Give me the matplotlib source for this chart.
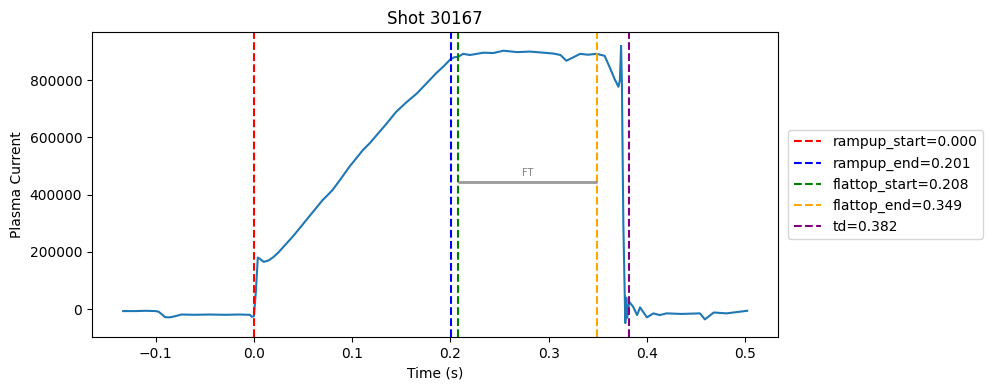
import matplotlib.pyplot as plt

# plasma current trace (time in s, current in A)
time = [-0.133, -0.120, -0.110, -0.100, -0.097, -0.093, -0.0906, -0.087, -0.084,
        -0.079, -0.0736, -0.060, -0.045, -0.030, -0.015, -0.004, -0.002, 0.000,
        0.002, 0.004, 0.006, 0.010, 0.015, 0.020, 0.025, 0.030, 0.035, 0.040,
        0.045, 0.050, 0.055, 0.060, 0.065, 0.070, 0.075, 0.080, 0.0876, 0.0978,
        0.104, 0.111, 0.118, 0.125, 0.135, 0.145, 0.155, 0.166, 0.176, 0.186,
        0.193, 0.200, 0.204, 0.208, 0.213, 0.220, 0.2335, 0.244, 0.254, 0.268,
        0.281, 0.295, 0.305, 0.312, 0.318, 0.324, 0.332, 0.340, 0.349, 0.357,
        0.3625, 0.367, 0.371, 0.3725, 0.3737, 0.3745, 0.376, 0.378, 0.379,
        0.380, 0.382, 0.386, 0.390, 0.393, 0.400, 0.4066, 0.413, 0.420, 0.435,
        0.454, 0.459, 0.468, 0.481, 0.488, 0.502]
current = [-7000, -7000, -6000, -7000, -9000, -20000, -28000, -29000, -28000,
           -24000, -19000, -20000, -19000, -20000, -19000, -20000, -27000, -25000,
           60000, 180000, 176000, 165000, 170000, 182000, 198000, 217000, 236000, 255000,
           276000, 297000, 318000, 339000, 360000, 381000, 398000, 416000, 451000, 500000,
           526000, 556000, 580000, 608000, 648000, 690000, 722000, 754000, 790000, 826000,
           848000, 873000, 880000, 882000, 892000, 888000, 896000, 895000, 903000, 898000,
           900000, 896000, 893000, 888000, 868000, 878000, 892000, 889000, 892000, 885000,
           842000, 805000, 777000, 800000, 920000, 800000, 300000, -49000, 40000,
           -30000, 25000, 8000, -21000, 6000, -29000, -15000, -21000, -15000, -17000,
           -15000, -36000, -12000, -15000, -12000, -6000]

# event markers
event_names = ["rampup_start", "rampup_end", "flattop_start", "flattop_end", "td"]
event_times = [0.000, 0.201, 0.208, 0.349, 0.382]
event_colors = ["red", "blue", "green", "orange", "purple"]

ft_level = 444000

fig, ax = plt.subplots(figsize=(9.89, 3.9), dpi=100)
ax.plot(time, current, color="tab:blue", linewidth=1.5)

for name, t, c in zip(event_names, event_times, event_colors):
    ax.axvline(t, color=c, linestyle="--", linewidth=1.5, label=f"{name}={t:.3f}")

ax.hlines(ft_level, event_times[2], event_times[3], color="gray", linewidth=2, alpha=0.8)
ax.text((event_times[2] + event_times[3]) / 2, ft_level + 15000, "FT",
        ha="center", va="bottom", fontsize=7, color="gray")

ax.set_title("Shot 30167")
ax.set_xlabel("Time (s)")
ax.set_ylabel("Plasma Current")
ax.legend(loc="center left", bbox_to_anchor=(1.004, 0.5))

fig.subplots_adjust(left=0.093, right=0.787, top=0.918, bottom=0.136)
plt.savefig("out.png")
